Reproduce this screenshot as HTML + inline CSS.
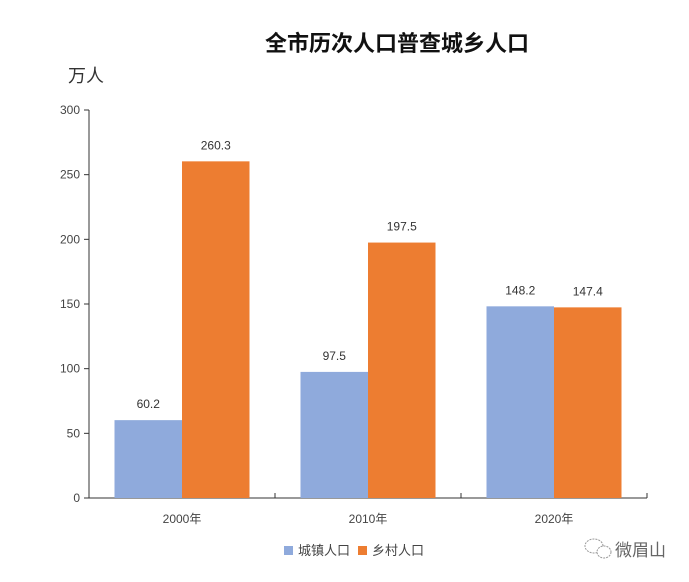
<!DOCTYPE html>
<html><head><meta charset="utf-8"><style>
body{margin:0;background:#fff;}
svg text{font-family:"Liberation Sans","Noto Sans CJK SC",sans-serif;}
</style></head><body>
<svg width="689" height="577" xmlns="http://www.w3.org/2000/svg">
<rect width="689" height="577" fill="#fff"/>
<text x="397" y="51" text-anchor="middle" font-size="22" font-weight="bold" fill="#111">全市历次人口普查城乡人口</text>
<text x="68" y="82" font-size="18" fill="#333">万人</text>
<g id="axes"></g>
<g id="bars"></g>
<g>
<rect x="284" y="546" width="9" height="9" fill="#8faadc"/>
<text x="298" y="555" font-size="13" fill="#444">城镇人口</text>
<rect x="358" y="546" width="9" height="9" fill="#ed7d31"/>
<text x="372" y="555" font-size="13" fill="#444">乡村人口</text>
</g>
<g>
<ellipse cx="594" cy="546" rx="9" ry="7" fill="none" stroke="#999" stroke-width="1" stroke-dasharray="2 1"/>
<ellipse cx="604" cy="552" rx="7" ry="6" fill="#fff" stroke="#999" stroke-width="1" stroke-dasharray="2 1"/>
<text x="615" y="556" font-size="17" fill="#666">微眉山</text>
</g>
</svg>
<script>
const categories=["2000年","2010年","2020年"];
const urban=[60.2,97.5,148.2];
const rural=[260.3,197.5,147.4];
const yTicks=[0,50,100,150,200,250,300];
const NS="http://www.w3.org/2000/svg";
const x0=89,x1=647,y0=498,yTop=110,yMax=300;
const y=v=>y0-(v/yMax)*(y0-yTop);
const gw=(x1-x0)/categories.length;
function mk(tag,attrs,parent,txt){const e=document.createElementNS(NS,tag);for(const k in attrs)e.setAttribute(k,attrs[k]);if(txt!==undefined)e.textContent=txt;parent.appendChild(e);return e;}
const ax=document.getElementById('axes');
const yl=mk('line',{x1:x0,y1:yTop,x2:x0,y2:y0,stroke:'#333','stroke-width':1},ax);


yTicks.forEach(t=>{
 const tk=mk('line',{x1:x0-5,y1:y(t),x2:x0,y2:y(t),stroke:'#333'},ax);
 
 
 const lb=mk('text',{x:x0-9,y:y(t)+4,'text-anchor':'end','font-size':12,fill:'#444'},ax,t);
 
 
});
const xl=mk('line',{x1:x0,y1:y0,x2:x1,y2:y0,stroke:'#333','stroke-width':1},ax);


for(let i=0;i<=categories.length;i++){
 const tk=mk('line',{x1:x0+i*gw,y1:y0-5,x2:x0+i*gw,y2:y0,stroke:'#333'},ax);
 
 
}
const bg=document.getElementById('bars');
const bw=67.5;
categories.forEach((c,i)=>{
 const cx=x0+gw*(i+0.5);
 const lb=mk('text',{x:cx,y:523,'text-anchor':'middle','font-size':12,fill:'#444'},ax,c);
 
 
 [[urban[i],'#8faadc',cx-bw,'urban'],[rural[i],'#ed7d31',cx,'rural']].forEach(([v,col,bx,n])=>{
  const r=mk('rect',{x:bx,y:y(v),width:bw,height:y0-y(v),fill:col},bg);
  
  
  const t=mk('text',{x:bx+bw/2,y:y(v)-12,'text-anchor':'middle','font-size':12,fill:'#333'},bg,v.toFixed(1));
  
  
 });
});
</script>
</body></html>
